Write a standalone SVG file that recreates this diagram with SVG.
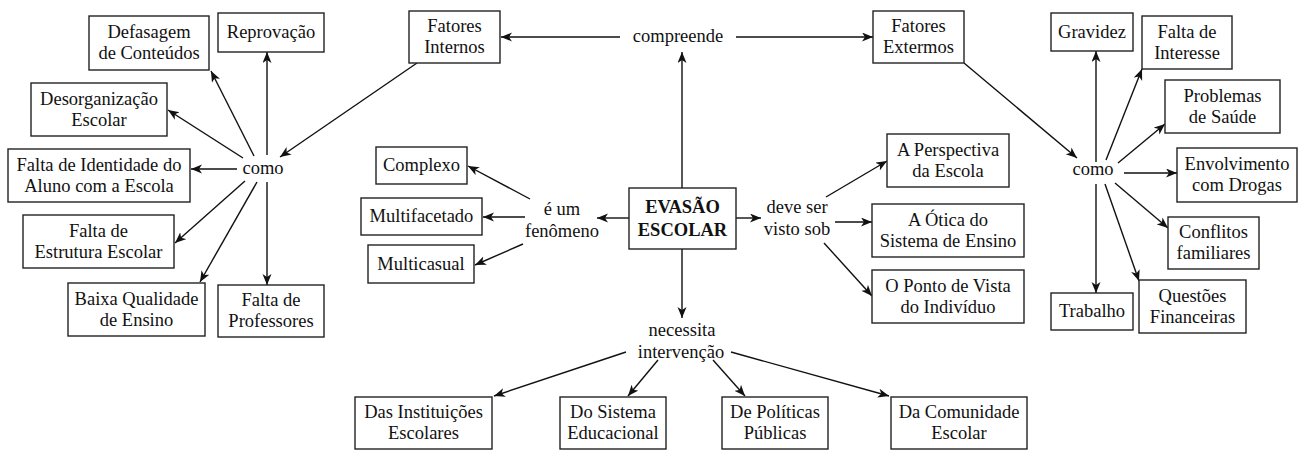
<svg xmlns="http://www.w3.org/2000/svg" width="1299" height="458" viewBox="0 0 1299 458">
<style>
.b{fill:#fff;stroke:#222;stroke-width:1.4}
text{font-family:'Liberation Serif','Times New Roman',Tinos,'Noto Serif','DejaVu Serif',serif;font-size:18.5px;fill:#111;text-anchor:middle}
.bold{font-weight:bold}
.c line{stroke:#111;stroke-width:1.4;fill:none}
.c .a{marker-end:url(#ah)}
</style>
<defs>
<marker id="ah" markerUnits="userSpaceOnUse" markerWidth="12" markerHeight="10" refX="11" refY="4.5" orient="auto">
<path d="M0,0 L11,4.5 L0,9 L3,4.5 z" fill="#111"/>
</marker>
</defs>
<rect width="1299" height="458" fill="#fff"/>
<g class="c" id="connectors">
<line class="a" x1="682" y1="188" x2="682" y2="52"/>
<line class="a" x1="620" y1="37" x2="501" y2="37"/>
<line class="a" x1="736" y1="37" x2="873" y2="37"/>
<line class="a" x1="417" y1="63" x2="280" y2="157"/>
<line class="a" x1="964" y1="63" x2="1077" y2="158"/>
<line class="a" x1="267" y1="155" x2="267" y2="52"/>
<line class="a" x1="254" y1="156" x2="211" y2="71"/>
<line class="a" x1="243" y1="158" x2="168" y2="110"/>
<line class="a" x1="237" y1="169" x2="191" y2="169"/>
<line class="a" x1="245" y1="181" x2="175" y2="243"/>
<line class="a" x1="257" y1="182" x2="200" y2="282"/>
<line class="a" x1="267" y1="182" x2="267" y2="285"/>
<line class="a" x1="629" y1="218" x2="597" y2="218"/>
<line class="a" x1="530" y1="199" x2="468" y2="166"/>
<line class="a" x1="525" y1="217" x2="483" y2="217"/>
<line class="a" x1="523" y1="244" x2="475" y2="265"/>
<line class="a" x1="736" y1="218" x2="761" y2="218"/>
<line class="a" x1="826" y1="197" x2="887" y2="161"/>
<line class="a" x1="835" y1="222" x2="872" y2="222"/>
<line class="a" x1="824" y1="243" x2="872" y2="296"/>
<line class="a" x1="682" y1="249" x2="682" y2="318"/>
<line class="a" x1="626" y1="352" x2="494" y2="396"/>
<line class="a" x1="658" y1="360" x2="628" y2="396"/>
<line class="a" x1="713" y1="360" x2="745" y2="396"/>
<line class="a" x1="731" y1="352" x2="889" y2="396"/>
<line class="a" x1="1096" y1="162" x2="1096" y2="51"/>
<line class="a" x1="1106" y1="160" x2="1142" y2="69"/>
<line class="a" x1="1118" y1="163" x2="1165" y2="124"/>
<line class="a" x1="1124" y1="173" x2="1177" y2="173"/>
<line class="a" x1="1115" y1="183" x2="1168" y2="228"/>
<line class="a" x1="1105" y1="184" x2="1139" y2="281"/>
<line class="a" x1="1096" y1="184" x2="1096" y2="293"/>
</g>
<g id="labels">
<text x="678" y="42">compreende</text>
<text x="263" y="174">como</text>
<text x="1093" y="175">como</text>
<text x="562" y="215">é um</text>
<text x="562" y="237">fenômeno</text>
<text x="797" y="213">deve ser</text>
<text x="797" y="235">visto sob</text>
<text x="682" y="336">necessita</text>
<text x="681" y="358">intervenção</text>
</g>
<g id="evasao"><rect class="b" x="629" y="188" width="107" height="61"/><text class="bold" x="682.5" y="213">EVASÃO</text><text class="bold" x="682.5" y="236">ESCOLAR</text></g>
<g id="fatores-internos"><rect class="b" x="409" y="11" width="91" height="52"/><text x="454.5" y="32">Fatores</text><text x="454.5" y="53">Internos</text></g>
<g id="fatores-extermos"><rect class="b" x="873" y="11" width="91" height="52"/><text x="918.5" y="32">Fatores</text><text x="918.5" y="53">Extermos</text></g>
<g id="defasagem"><rect class="b" x="89" y="16" width="120" height="54"/><text x="149" y="38">Defasagem</text><text x="149" y="59">de Conteúdos</text></g>
<g id="reprovacao"><rect class="b" x="218" y="13" width="106" height="39"/><text x="271" y="38">Reprovação</text></g>
<g id="desorganizacao"><rect class="b" x="31" y="83" width="136" height="53"/><text x="99" y="105">Desorganização</text><text x="99" y="126">Escolar</text></g>
<g id="falta-identidade"><rect class="b" x="8" y="149" width="182" height="53"/><text x="99" y="171">Falta de Identidade do</text><text x="99" y="192">Aluno com a Escola</text></g>
<g id="falta-estrutura"><rect class="b" x="23" y="215" width="151" height="53"/><text x="98.5" y="237">Falta de</text><text x="98.5" y="258">Estrutura Escolar</text></g>
<g id="baixa-qualidade"><rect class="b" x="68" y="283" width="137" height="53"/><text x="136.5" y="305">Baixa Qualidade</text><text x="136.5" y="326">de Ensino</text></g>
<g id="falta-professores"><rect class="b" x="218" y="285" width="106" height="52"/><text x="271" y="306">Falta de</text><text x="271" y="327">Professores</text></g>
<g id="complexo"><rect class="b" x="376" y="147" width="91" height="37"/><text x="421.5" y="171">Complexo</text></g>
<g id="multifacetado"><rect class="b" x="361" y="198" width="121" height="37"/><text x="421.5" y="222">Multifacetado</text></g>
<g id="multicasual"><rect class="b" x="368" y="245" width="106" height="38"/><text x="421" y="270">Multicasual</text></g>
<g id="perspectiva"><rect class="b" x="887" y="134" width="122" height="53"/><text x="948" y="156">A Perspectiva</text><text x="948" y="177">da Escola</text></g>
<g id="otica"><rect class="b" x="872" y="204" width="152" height="53"/><text x="948" y="226">A Ótica do</text><text x="948" y="247">Sistema de Ensino</text></g>
<g id="ponto-vista"><rect class="b" x="872" y="270" width="152" height="53"/><text x="948" y="292">O Ponto de Vista</text><text x="948" y="313">do Indivíduo</text></g>
<g id="gravidez"><rect class="b" x="1051" y="13" width="82" height="38"/><text x="1092" y="38">Gravidez</text></g>
<g id="falta-interesse"><rect class="b" x="1142" y="16" width="90" height="53"/><text x="1187" y="38">Falta de</text><text x="1187" y="59">Interesse</text></g>
<g id="problemas-saude"><rect class="b" x="1165" y="80" width="115" height="53"/><text x="1222.5" y="102">Problemas</text><text x="1222.5" y="123">de Saúde</text></g>
<g id="envolvimento"><rect class="b" x="1177" y="148" width="120" height="54"/><text x="1237" y="170">Envolvimento</text><text x="1237" y="191">com Drogas</text></g>
<g id="conflitos"><rect class="b" x="1168" y="217" width="91" height="52"/><text x="1213.5" y="238">Conflitos</text><text x="1213.5" y="259">familiares</text></g>
<g id="trabalho"><rect class="b" x="1051" y="293" width="82" height="37"/><text x="1092" y="317">Trabalho</text></g>
<g id="questoes"><rect class="b" x="1139" y="280" width="107" height="53"/><text x="1192.5" y="302">Questões</text><text x="1192.5" y="323">Financeiras</text></g>
<g id="instituicoes"><rect class="b" x="355" y="397" width="137" height="52"/><text x="423.5" y="418">Das Instituições</text><text x="423.5" y="439">Escolares</text></g>
<g id="sistema-educacional"><rect class="b" x="560" y="397" width="106" height="52"/><text x="613" y="418">Do Sistema</text><text x="613" y="439">Educacional</text></g>
<g id="politicas"><rect class="b" x="722" y="397" width="106" height="52"/><text x="775" y="418">De Políticas</text><text x="775" y="439">Públicas</text></g>
<g id="comunidade"><rect class="b" x="891" y="397" width="136" height="52"/><text x="959" y="418">Da Comunidade</text><text x="959" y="439">Escolar</text></g>
</svg>
